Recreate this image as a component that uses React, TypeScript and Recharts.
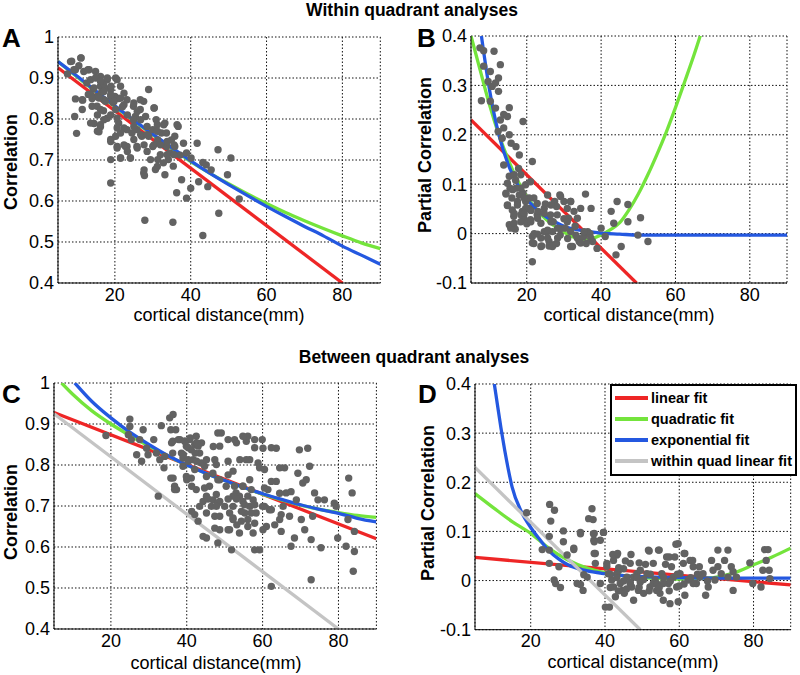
import { CartesianGrid, ComposedChart, Line, Scatter, XAxis, YAxis } from 'recharts';

const FONT = '"Liberation Sans", Arial, Helvetica, sans-serif';

const RED = '#ee2626';
const GREEN = '#74e43c';
const BLUE = '#2458e0';
const GRAY = '#c4c4c4';
const DOT = '#626262';

// axis ticks
const distTicks = [20, 40, 60, 80];
const corrTicks = [0.4, 0.5, 0.6, 0.7, 0.8, 0.9, 1];
const partialTicks = [-0.1, 0, 0.1, 0.2, 0.3, 0.4];

// A: within quadrant, correlation
const distA = [
  8.6, 11.1, 9.6, 9.6, 9.4, 9.9, 11.5, 12.9, 13.6, 14.3,
  15.3, 16.2, 17.1, 18, 18.9, 20, 20.6, 20.2, 14.5, 16.2,
  18, 15.8, 18.9, 18.9, 21, 20.6, 22.8, 21.5, 24.1, 23.2,
  24.5, 25.4, 26.7, 27.6, 28.9, 28.5, 25.8, 28.9, 27.6, 27.8,
  30.4, 30.9, 30, 31.3, 30.7, 32.3, 33.2, 33.6, 34.1, 34.9,
  35.4, 35.8, 36.7, 37.2, 38.1, 37.6, 36.3, 38.9, 40, 40.1,
  41.7, 43.2, 44.1, 42.1, 44.5, 45.4, 47.2, 47.4, 50.6, 49.7,
  52.8, 27.9, 35.3, 43.2, 20.2, 21.5, 22.4, 23.2, 16.2, 17.1,
  18.9, 15.3, 12.6, 11.8, 14.9, 24.9, 26.7, 31.3, 33.6, 34.5,
  32.8, 35.8, 38.9, 33.2, 23.2, 24.9, 25.8, 27.1, 30, 16.5,
  17.5, 19.5, 21, 22, 19, 14, 13, 10.5, 7.5, 17,
  8.3, 11, 9.2, 13.2, 14.9, 16.2, 18, 20.2, 14.5, 17.1,
  18.9, 13.6, 15.8, 17.5, 19.8, 21.5, 22.4, 25, 11.4, 11.4,
  14, 16.2, 18.9, 20.6, 15.4, 13.6, 16.2, 17.1, 23.3, 25.9,
  26.8, 28.1, 30.3, 31.2, 25, 22.4, 20.6, 15.4, 18.9, 21.5,
  22.4, 25, 26.8, 28.5, 31.2, 32.9, 27.7, 30.3, 32, 33.8,
  35.6, 36.4, 32, 33.8, 35.6, 20.6, 23.3, 21.5, 24.1, 25.9,
  28.5, 29.4, 31.2, 27.7, 18.9,
];
const corrA = [
  0.941, 0.949, 0.92, 0.849, 0.806, 0.765, 0.846, 0.92, 0.896, 0.873,
  0.855, 0.88, 0.847, 0.896, 0.872, 0.855, 0.896, 0.823, 0.789, 0.781,
  0.802, 0.769, 0.75, 0.644, 0.79, 0.733, 0.733, 0.705, 0.705, 0.774,
  0.766, 0.806, 0.823, 0.843, 0.872, 0.782, 0.733, 0.758, 0.668, 0.662,
  0.827, 0.798, 0.733, 0.701, 0.677, 0.766, 0.79, 0.733, 0.701, 0.749,
  0.685, 0.733, 0.782, 0.712, 0.741, 0.652, 0.62, 0.607, 0.631, 0.705,
  0.741, 0.694, 0.688, 0.647, 0.635, 0.676, 0.725, 0.57, 0.705, 0.664,
  0.605, 0.553, 0.548, 0.516, 0.758, 0.88, 0.863, 0.847, 0.904, 0.888,
  0.855, 0.831, 0.888, 0.916, 0.916, 0.831, 0.847, 0.749, 0.766, 0.717,
  0.693, 0.758, 0.717, 0.664, 0.733, 0.798, 0.774, 0.758, 0.774, 0.865,
  0.875, 0.84, 0.85, 0.83, 0.88, 0.85, 0.86, 0.93, 0.91, 0.82,
  0.94, 0.949, 0.92, 0.92, 0.9, 0.892, 0.9, 0.9, 0.876, 0.867,
  0.859, 0.859, 0.851, 0.843, 0.843, 0.851, 0.835, 0.839, 0.847, 0.823,
  0.831, 0.823, 0.81, 0.802, 0.81, 0.79, 0.786, 0.798, 0.81, 0.818,
  0.798, 0.806, 0.827, 0.786, 0.782, 0.778, 0.778, 0.77, 0.745, 0.766,
  0.737, 0.75, 0.762, 0.762, 0.77, 0.786, 0.737, 0.737, 0.737, 0.745,
  0.737, 0.786, 0.713, 0.713, 0.713, 0.729, 0.721, 0.705, 0.705, 0.729,
  0.721, 0.701, 0.684, 0.676, 0.701,
];
const linXA = [5, 80];
const linA = [0.925, 0.4];
const fitXA = [5, 10, 15, 20, 25, 30, 35, 40, 45, 50, 55, 60, 65, 70, 75, 80, 85, 90];
const quadA = [0.94, 0.903, 0.866, 0.83, 0.795, 0.761, 0.728, 0.696, 0.668, 0.642, 0.617, 0.594, 0.572, 0.552, 0.533, 0.515, 0.498, 0.484];
const expA = [0.94, 0.905, 0.868, 0.832, 0.797, 0.763, 0.73, 0.698, 0.668, 0.64, 0.613, 0.587, 0.562, 0.538, 0.515, 0.49, 0.468, 0.446];

// B: within quadrant, partial correlation
const distB = [
  7.4, 8.4, 11.2, 8.4, 10.2, 12.9, 12.4, 9.6, 10.7, 11.6,
  7.8, 10.2, 11.6, 12.3, 12.9, 13.8, 15.3, 14.8, 13.8, 13.4,
  15.3, 15.8, 17.1, 18, 19, 21.5, 13.8, 15.3, 15.5, 14.4,
  16, 17.1, 18, 19, 17.5, 14.8, 16.1, 15.3, 16.9, 18.4,
  19.7, 20.6, 19.2, 21, 21.9, 21.5, 21.9, 21.5, 22.8, 23.8,
  24.7, 25.6, 26, 26.9, 26.4, 27.5, 28.2, 27.1, 28.9, 30,
  30.9, 31.8, 32.7, 33.6, 34.5, 35.8, 33.2, 32.3, 34.1, 35.3,
  36.4, 37.3, 37.7, 38.9, 40, 41.1, 42.7, 43.4, 44.3, 45.4,
  44, 47.2, 47.2, 49.9, 50.6, 52.6, 25.6, 24.7, 27.1, 23.8,
  29, 30.3, 31.2, 20.6, 19.7, 16.6, 18.4, 19.7, 22.8, 21,
  17.8, 12.4, 20, 22, 24, 26, 28, 29, 31, 33,
  36, 37, 23, 25, 18.8, 16.5, 28, 30,
  14.4, 16.2, 18.4, 19.3, 14.8, 17.5, 16.6, 19.3, 21.1, 18.4,
  21.1, 22.9, 24.7, 26.5, 26.5, 25.6, 28.3, 22.9, 25.6, 28.3,
  30.9, 31.8, 33.6, 35.4, 34.5, 37.2, 15.7, 16.6, 29.1, 31.8,
  21.5, 23.8, 26.9, 31.8, 14.8, 17,
];
const pcorrB = [
  0.376, 0.37, 0.369, 0.339, 0.328, 0.342, 0.315, 0.308, 0.298, 0.305,
  0.269, 0.268, 0.254, 0.207, 0.23, 0.241, 0.255, 0.237, 0.214, 0.193,
  0.2, 0.183, 0.176, 0.159, 0.227, 0.146, 0.139, 0.116, 0.092, 0.08,
  0.072, 0.092, 0.078, 0.082, 0.065, 0.057, 0.048, 0.018, 0.009, 0.038,
  0.065, 0.051, 0.031, 0.028, 0.072, -0.006, -0.02, -0.057, 0.038, 0.021,
  0.051, 0.004, -0.016, 0.004, 0.038, 0.065, 0.038, -0.023, 0.078, 0.065,
  0.051, 0.065, 0.045, 0.031, 0.051, 0.08, -0.003, -0.026, -0.016, -0.006,
  0.004, 0.051, -0.016, -0.03, 0.011, -0.006, 0.045, 0.021, 0.065, -0.026,
  -0.043, 0.059, 0.024, -0.003, 0.032, -0.016, 0.078, 0.004, 0.024, -0.009,
  -0.003, 0.011, 0.031, 0.072, 0.099, 0.119, 0.119, 0.051, 0.061, 0.105,
  0.132, 0.288, 0.02, 0.0, -0.025, -0.025, -0.02, 0.01, -0.01, 0.015,
  -0.02, 0.0, 0.045, 0.06, 0.045, 0.035, 0.055, 0.03,
  0.082, 0.089, 0.092, 0.072, 0.058, 0.058, 0.041, 0.041, 0.047, 0.024,
  0.024, 0.031, 0.041, 0.024, 0.058, 0.007, 0.011, -0.001, -0.009, -0.009,
  0.024, 0.004, -0.009, 0.004, -0.019, -0.009, 0.011, 0.021, 0.075, 0.065,
  -0.019, -0.026, -0.026, -0.026, 0.102, 0.108,
];
const linXB = [5, 49.5];
const linB = [0.23, -0.1];
const quadXB = [5, 7.5, 10, 12.5, 15, 17.5, 20, 22.5, 25, 27.5, 30, 32.5, 35, 37.5, 40, 42.5, 45, 47.5, 50, 52.5, 55, 57.5, 60, 62.5, 65, 67.5];
const quadB = [0.4, 0.33, 0.26, 0.2, 0.15, 0.108, 0.075, 0.05, 0.03, 0.015, 0.003, -0.007, -0.012, -0.01, -0.003, 0.008, 0.022, 0.048, 0.08, 0.118, 0.16, 0.205, 0.255, 0.308, 0.362, 0.42];
const expXB = [7.8, 10, 12.5, 15, 17.5, 20, 22.5, 25, 27.5, 30, 35, 40, 45, 50, 60, 70, 80, 90];
const expB = [0.4, 0.29, 0.2, 0.14, 0.1, 0.07, 0.05, 0.035, 0.024, 0.015, 0.006, 0.001, -0.001, -0.003, -0.003, -0.003, -0.003, -0.003];

// C: between quadrant, correlation
const distC = [
  18.7, 25, 25, 25.4, 24.6, 26.8, 28.1, 28.5, 27.6, 29.4,
  29.8, 31.3, 33.3, 32.9, 32, 34, 34.2, 32.5, 35.5, 36.4,
  36, 37.1, 36.4, 36.8, 37.3, 38.2, 38.6, 39, 39.5, 39.9,
  40.8, 41.2, 41.7, 42.1, 42.5, 43, 43.4, 43.9, 42.1, 41.2,
  42.5, 42.1, 43, 45.2, 44.7, 45.2, 46, 47.4, 46.9, 46.5,
  47.8, 48.7, 48.2, 49.1, 48.7, 48.7, 48.7, 48.2, 50, 50.4,
  51.3, 51.8, 52.2, 52.2, 52.6, 53, 53.2, 53.9, 54.4, 54.8,
  55.3, 55.7, 55.7, 56.1, 56.1, 56.6, 57, 57.5, 57.9, 58.3,
  58.8, 59.2, 59.9, 60.1, 60.5, 60.5, 61, 61.4, 61.8, 62.3,
  63.6, 63.6, 64.5, 64.9, 65.4, 65.8, 66.2, 67.1, 67.5, 68.4,
  68.9, 69.3, 69.7, 70.2, 70.6, 71.1, 71.5, 71.9, 72.4, 72.8,
  72.8, 73.2, 73.7, 74.6, 75.4, 76.3, 78.9, 79.4, 79.8, 82,
  82.5, 82.7, 83.6, 83.9, 84.2, 84.2, 52.2, 53.9, 43.4, 44.3,
  39.9, 39, 40.4, 43.9, 46.9, 52.2, 57.5, 56.1, 60.1, 48.7,
  45.2, 54.8,
  35.8, 36.3, 37.8, 39.5, 40.9, 42.6, 40.4, 42.2, 39.1, 36.3,
  40.4, 42.6, 45.2, 47.8, 50.9, 47, 50.9, 53.1, 54.8, 57.9,
  57.9, 62.3, 54, 56.6, 59.2, 64.5, 35.8, 40, 41.3, 36.8,
  44.7, 48.2, 50.9, 52.6, 54.8, 56.6, 60.5, 62.3, 64.5, 67.5,
  45.6, 48.2, 50.9, 53.1, 55.2, 57.9, 60, 41.3, 45.2, 47.8,
  51.3, 54.4, 57, 62.3, 64.9, 47.4, 52.2, 57.9, 63.2, 50.9,
  56.1, 44.3, 47.4,
];
const corrC = [
  0.872, 0.912, 0.894, 0.862, 0.874, 0.825, 0.809, 0.886, 0.862, 0.841,
  0.825, 0.862, 0.896, 0.813, 0.829, 0.793, 0.821, 0.724, 0.915, 0.923,
  0.854, 0.886, 0.768, 0.748, 0.74, 0.862, 0.829, 0.817, 0.858, 0.846,
  0.862, 0.837, 0.813, 0.85, 0.87, 0.846, 0.829, 0.854, 0.789, 0.768,
  0.74, 0.679, 0.663, 0.622, 0.797, 0.772, 0.748, 0.813, 0.715, 0.699,
  0.728, 0.711, 0.878, 0.878, 0.846, 0.675, 0.642, 0.61, 0.699, 0.748,
  0.642, 0.593, 0.699, 0.785, 0.862, 0.732, 0.654, 0.724, 0.663, 0.748,
  0.683, 0.858, 0.813, 0.87, 0.724, 0.699, 0.74, 0.634, 0.593, 0.683,
  0.805, 0.593, 0.862, 0.841, 0.789, 0.699, 0.65, 0.74, 0.691, 0.504,
  0.841, 0.76, 0.667, 0.638, 0.699, 0.793, 0.732, 0.675, 0.602, 0.622,
  0.715, 0.78, 0.837, 0.667, 0.756, 0.642, 0.764, 0.841, 0.797, 0.618,
  0.52, 0.675, 0.732, 0.715, 0.598, 0.715, 0.707, 0.699, 0.622, 0.602,
  0.667, 0.768, 0.732, 0.541, 0.589, 0.638, 0.667, 0.634, 0.699, 0.711,
  0.772, 0.797, 0.813, 0.805, 0.78, 0.724, 0.715, 0.667, 0.642, 0.764,
  0.724, 0.711,
  0.886, 0.858, 0.862, 0.858, 0.866, 0.854, 0.842, 0.829, 0.825, 0.829,
  0.809, 0.809, 0.813, 0.801, 0.809, 0.845, 0.862, 0.854, 0.87, 0.862,
  0.842, 0.842, 0.813, 0.813, 0.793, 0.793, 0.768, 0.764, 0.748, 0.74,
  0.744, 0.764, 0.776, 0.748, 0.748, 0.764, 0.744, 0.76, 0.731, 0.735,
  0.717, 0.707, 0.717, 0.717, 0.703, 0.703, 0.699, 0.687, 0.683, 0.699,
  0.683, 0.687, 0.683, 0.691, 0.679, 0.675, 0.671, 0.658, 0.654, 0.642,
  0.65, 0.626, 0.646,
];
const linXC = [5, 90];
const linC = [0.928, 0.62];
const grayXC = [5, 80];
const grayC = [0.925, 0.4];
const quadXC = [7, 10, 15, 20, 25, 30, 35, 40, 45, 50, 55, 60, 65, 70, 75, 80, 85, 90];
const quadC = [1.0, 0.972, 0.932, 0.9, 0.872, 0.846, 0.822, 0.8, 0.78, 0.762, 0.745, 0.729, 0.715, 0.702, 0.692, 0.684, 0.677, 0.672];
const expXC = [10.5, 15, 20, 25, 30, 35, 40, 45, 50, 55, 60, 65, 70, 75, 80, 85, 90];
const expC = [1.0, 0.955, 0.915, 0.88, 0.85, 0.823, 0.8, 0.78, 0.762, 0.745, 0.73, 0.716, 0.703, 0.692, 0.682, 0.67, 0.661];

// D: between quadrant, partial correlation
const distD = [
  18.9, 25.1, 26.4, 25.4, 25, 23.1, 25, 25, 26.3, 26.7,
  28, 28.8, 28.8, 27.6, 29.8, 31.6, 32.5, 33.4, 34.1, 35.2,
  35.6, 36.5, 36.8, 37.1, 37, 37.4, 37.4, 38.75, 39.6, 38.75,
  40.1, 41.2, 40.5, 40.9, 41.8, 42.3, 42.8, 43.2, 43.7, 44.1,
  44.6, 45.2, 45.9, 46.8, 47.2, 47.7, 48.6, 49, 49.5, 50.4,
  51.3, 51.7, 52.1, 53, 53.5, 54.4, 54.8, 55.3, 55.7, 56.6,
  57.1, 57.5, 57.9, 58.8, 59.3, 59.7, 59.7, 60.2, 61.1, 61.5,
  61.5, 62.4, 62.9, 63.75, 64.6, 65.5, 66.4, 67.1, 67.8, 68.7,
  69.6, 70.4, 70.4, 71.3, 72.2, 73.1, 73.1, 74, 74.5, 75.4,
  79, 79.8, 82, 82.5, 83, 83.4, 83.9, 84.2, 84.4, 47.7,
  53, 58.4, 43.2, 45, 49.5, 55.7, 63.75, 69.1, 74.5, 42.3,
  46.8, 53.9,
  33.4, 36.9, 39.6, 37.1, 31.6, 37.1, 42.1, 43.4, 47, 49.2,
  51.9, 54.6, 57.3, 59.1, 61.3, 63.6, 65.4, 40.5, 41.4, 43.2,
  45, 46.8, 48.6, 50.4, 52.2, 54, 55.8, 57.6, 59.5, 61.3,
  63.1, 64.9, 67.6, 41.4, 43.6, 45.8, 49.2, 51.9, 54.6, 57.3,
  60, 43.7, 45.5, 50.9, 56.3, 33.4, 34.3,
];
const pcorrD = [
  0.138, 0.155, 0.143, 0.121, 0.09, 0.063, 0.062, 0.035, 0.001, -0.006,
  -0.014, 0.101, 0.079, 0.028, 0.052, 0.063, -0.006, 0.098, -0.02, 0.007,
  0.126, 0.146, 0.124, 0.096, 0.082, 0.055, 0.035, 0.082, 0.098, -0.006,
  -0.054, -0.054, 0.035, 0.014, 0.001, -0.013, -0.033, 0.052, 0.021, -0.006,
  -0.02, -0.026, 0.007, 0.035, -0.013, -0.04, 0.014, -0.02, -0.003, -0.026,
  0.014, 0.062, -0.013, 0.035, 0.001, 0.062, -0.026, 0.014, -0.04, 0.048,
  -0.006, -0.047, 0.028, 0.048, -0.013, 0.075, -0.043, 0.014, 0.035, 0.055,
  -0.03, 0.001, 0.041, 0.028, -0.006, 0.007, 0.014, -0.03, -0.013, 0.041,
  0.001, 0.062, 0.028, 0.014, 0.041, 0.062, 0.007, 0.028, -0.02, 0.007,
  0.036, -0.006, -0.013, 0.021, 0.063, 0.041, 0.063, 0.021, 0.004, 0.007,
  -0.006, 0.007, 0.014, 0.024, 0.021, -0.006, -0.006, 0.021, 0.018, 0.041,
  -0.006, -0.02,
  0.095, 0.095, 0.098, 0.079, 0.066, 0.055, 0.053, 0.055, 0.053, 0.036,
  0.06, 0.062, 0.048, 0.074, 0.055, 0.041, 0.028, 0.029, 0.013, 0.006,
  -0.001, -0.004, 0.006, 0.002, 0.013, -0.007, 0.006, -0.001, 0.013, -0.007,
  0.006, 0.013, -0.001, -0.014, -0.021, -0.017, -0.014, -0.021, -0.014, -0.021,
  -0.011, 0.026, 0.04, 0.033, 0.033, -0.008, 0.012,
];
const linXD = [5, 90];
const linD = [0.047, -0.009];
const grayXD = [5, 49.5];
const grayD = [0.23, -0.1];
const quadXD = [5, 10, 15, 20, 25, 30, 35, 40, 45, 50, 55, 60, 65, 70, 75, 80, 85, 90];
const quadD = [0.177, 0.148, 0.12, 0.096, 0.065, 0.042, 0.026, 0.016, 0.01, 0.006, 0.004, 0.003, 0.004, 0.007, 0.016, 0.032, 0.048, 0.066];
const expXD = [10.2, 11, 12, 13, 14, 15, 17.5, 20, 22.5, 25, 27.5, 30, 35, 40, 45, 50, 60, 70, 80, 90];
const expD = [0.4, 0.36, 0.31, 0.265, 0.225, 0.19, 0.14, 0.108, 0.083, 0.06, 0.044, 0.032, 0.02, 0.014, 0.01, 0.008, 0.006, 0.005, 0.005, 0.005];

const legendItems = [
  { name: 'linear fit', color: RED },
  { name: 'quadratic fit', color: GREEN },
  { name: 'exponential fit', color: BLUE },
  { name: 'within quad linear fit', color: GRAY },
];

const zip = (xs: number[], ys: number[]) => xs.map((x, i) => ({ x, y: ys[i] }));
const fmt = (v: number) => (Math.abs(v) < 1e-9 ? '0' : String(Math.round(v * 10) / 10));

type Fit = { xs: number[]; ys: number[]; color: string };

const Panel = ({ left, top, w, h, yDomain, yTicks, xs, ys, fits, dotsOnTop }: any) => {
  const dots = (
    <Scatter
      key="dots"
      data={zip(xs, ys)}
      isAnimationActive={false}
      shape={(p: any) => <circle cx={p.cx} cy={p.cy} r={3.7} fill={DOT} />}
    />
  );
  const lines = (fits as Fit[]).map((f, i) => (
    <Line
      key={'fit' + i}
      data={zip(f.xs, f.ys)}
      dataKey="y"
      type="monotone"
      stroke={f.color}
      strokeWidth={3.3}
      dot={false}
      activeDot={false}
      isAnimationActive={false}
    />
  ));
  const tick = { fill: '#000', fontSize: 18, fontFamily: FONT };
  return (
    <div style={{ position: 'absolute', left: left - 60, top: top - 10 }}>
      <ComposedChart width={w + 70} height={h + 50} margin={{ top: 10, right: 10, bottom: 10, left: 0 }}>
        <CartesianGrid stroke="#111" strokeDasharray="1.5 2" />
        <XAxis
          dataKey="x"
          type="number"
          domain={[5, 90]}
          ticks={distTicks}
          interval={0}
          allowDataOverflow
          height={30}
          tickLine={false}
          tickSize={3}
          tickMargin={2}
          axisLine={{ stroke: '#000' }}
          tick={tick}
        />
        <YAxis
          dataKey="y"
          type="number"
          domain={yDomain}
          ticks={yTicks}
          interval={0}
          allowDataOverflow
          width={60}
          tickLine={false}
          tickSize={1}
          tickMargin={3}
          tickFormatter={fmt}
          axisLine={{ stroke: '#000' }}
          tick={tick}
        />
        {dotsOnTop ? [...lines, dots] : [dots, ...lines]}
      </ComposedChart>
    </div>
  );
};

const Text = ({ x, y, children, size = 18, bold = false, rotate = false, anchor = 'center' }: any) => (
  <div
    style={{
      position: 'absolute',
      left: x,
      top: y,
      transform:
        (anchor === 'center' ? 'translate(-50%, -50%)' : 'translate(0, -50%)') + (rotate ? ' rotate(-90deg)' : ''),
      fontFamily: FONT,
      fontSize: size,
      fontWeight: bold ? 700 : 400,
      lineHeight: `${Math.round(size * 1.15)}px`,
      whiteSpace: 'nowrap',
      color: '#000',
    }}
  >
    {children}
  </div>
);

export default function App() {
  return (
    <div style={{ position: 'absolute', left: 0, top: 0, width: 800, height: 675, background: '#fff', overflow: 'hidden' }}>
      <Text x={412} y={10} size={17.5} bold>Within quadrant analyses</Text>
      <Text x={414} y={357} size={17.5} bold>Between quadrant analyses</Text>

      <Panel
        left={57.7} top={37.3} w={322.3} h={246}
        yDomain={[0.4, 1]} yTicks={corrTicks}
        xs={distA} ys={corrA}
        fits={[
          { xs: linXA, ys: linA, color: RED },
          { xs: fitXA, ys: quadA, color: GREEN },
          { xs: fitXA, ys: expA, color: BLUE },
        ]}
      />
      <Panel
        left={470.7} top={35.7} w={316} h={247}
        yDomain={[-0.1, 0.4]} yTicks={partialTicks}
        xs={distB} ys={pcorrB}
        fits={[
          { xs: linXB, ys: linB, color: RED },
          { xs: quadXB, ys: quadB, color: GREEN },
          { xs: expXB, ys: expB, color: BLUE },
        ]}
      />
      <Panel
        left={54.3} top={383.3} w={322.4} h={246}
        yDomain={[0.4, 1]} yTicks={corrTicks}
        xs={distC} ys={corrC}
        dotsOnTop
        fits={[
          { xs: linXC, ys: linC, color: RED },
          { xs: quadXC, ys: quadC, color: GREEN },
          { xs: expXC, ys: expC, color: BLUE },
          { xs: grayXC, ys: grayC, color: GRAY },
        ]}
      />
      <Panel
        left={475} top={384.3} w={315.7} h={245.7}
        yDomain={[-0.1, 0.4]} yTicks={partialTicks}
        xs={distD} ys={pcorrD}
        dotsOnTop
        fits={[
          { xs: linXD, ys: linD, color: RED },
          { xs: quadXD, ys: quadD, color: GREEN },
          { xs: expXD, ys: expD, color: BLUE },
          { xs: grayXD, ys: grayD, color: GRAY },
        ]}
      />

      {/* panel letters */}
      <Text x={2} y={37.5} size={26} bold anchor="left">A</Text>
      <Text x={417} y={37.5} size={26} bold anchor="left">B</Text>
      <Text x={2} y={394} size={26} bold anchor="left">C</Text>
      <Text x={418} y={394} size={26} bold anchor="left">D</Text>

      {/* axis titles */}
      <Text x={11} y={162} bold rotate>Correlation</Text>
      <Text x={425} y={155} bold rotate>Partial Correlation</Text>
      <Text x={11} y={512} bold rotate>Correlation</Text>
      <Text x={428} y={503} bold rotate>Partial Correlation</Text>
      <Text x={219} y={315}>cortical distance(mm)</Text>
      <Text x={629} y={315}>cortical distance(mm)</Text>
      <Text x={216} y={663}>cortical distance(mm)</Text>
      <Text x={633} y={662}>cortical distance(mm)</Text>

      {/* legend */}
      <div
        style={{
          position: 'absolute',
          left: 610,
          top: 384,
          width: 187,
          height: 92,
          border: '2px solid #000',
          boxSizing: 'border-box',
          background: '#fff',
        }}
      >
        {legendItems.map((it, i) => (
          <div key={it.name} style={{ position: 'absolute', left: 0, top: 11.5 + i * 21.3, width: 185 }}>
            <div style={{ position: 'absolute', left: 3, top: -2, width: 33, height: 4, background: it.color }} />
            <Text x={39} y={0} size={14.5} bold anchor="left">{it.name}</Text>
          </div>
        ))}
      </div>
    </div>
  );
}
